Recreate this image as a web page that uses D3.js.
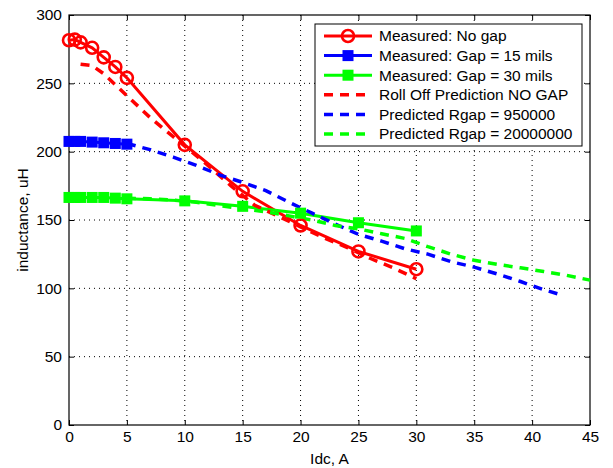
<!DOCTYPE html>
<html>
<head>
<meta charset="utf-8">
<script src="https://cdnjs.cloudflare.com/ajax/libs/d3/7.8.5/d3.min.js"></script>
<style>
	body { margin: 0; background: #fff; }
	text { font-family: "Liberation Sans", Arial, sans-serif; }
</style>
</head>
<body>
<script>
// measured points
const measX = [0, 0.5, 1, 2, 3, 4, 5, 10, 15, 20, 25, 30];
const noGap = [281.5, 282, 280, 276, 269, 262, 254, 205, 171, 146, 127, 114];
const gap15X = [0, 0.5, 1, 2, 3, 4, 5];
const gap15 = [207.5, 207.5, 207.5, 207, 206.5, 206, 205.5];
const gap30 = [166.5, 166.5, 166.5, 166.5, 166.5, 166, 165.5, 164, 160, 155, 148, 142];

// predictions
const rollX = [1, 2, 3, 4, 5, 6, 7, 8, 9, 10, 12, 14, 16, 18, 20, 22, 24, 26, 28, 30];
const rollOff = [264, 263, 257, 249, 241, 233, 225, 218, 211, 204, 190, 175, 161, 153, 145, 137, 130, 122, 115, 107];
const rg950X = [5, 7, 9, 11, 13, 15, 17, 19, 21, 23, 25, 27, 29, 31, 33, 35, 37, 39, 41, 42.6];
const rg950 = [206, 201.5, 196, 190, 183, 177.5, 171.5, 163, 155, 147, 139.5, 134.5, 129, 125, 119.5, 115.5, 110.5, 105, 99, 95];
const rg20mX = [5, 7, 9, 11, 13, 15, 17, 19, 21, 23, 25, 27, 29, 31, 33, 35, 37, 39, 41, 43, 45];
const rg20m = [166, 165.5, 164.5, 163, 160.5, 158.3, 156, 153, 150, 146, 143.5, 140, 136.5, 130.5, 125, 120.5, 117.5, 115, 112.3, 109.5, 106];

const xTicks = [0, 5, 10, 15, 20, 25, 30, 35, 40, 45];
const yTicks = [0, 50, 100, 150, 200, 250, 300];

const legendLabels = ["Measured: No gap", "Measured: Gap = 15 mils", "Measured: Gap = 30 mils",
	"Roll Off Prediction NO GAP", "Predicted Rgap = 950000", "Predicted Rgap = 20000000"];

const width = 613;
const height = 468;
const margin = {left: 69, right: 23, top: 15, bottom: 43};
const plotW = width - margin.left - margin.right;
const plotH = height - margin.top - margin.bottom;

let zip = (xs, ys) => xs.map((x, i) => [x, ys[i]]);

let series = [
	{name: legendLabels[0], data: zip(measX, noGap), color: "#ff0000", dash: null, marker: "circle"},
	{name: legendLabels[1], data: zip(gap15X, gap15), color: "#0000ff", dash: null, marker: "square"},
	{name: legendLabels[2], data: zip(measX, gap30), color: "#00ff00", dash: null, marker: "square"},
	{name: legendLabels[3], data: zip(rollX, rollOff), color: "#ff0000", dash: "9,7", marker: null},
	{name: legendLabels[4], data: zip(rg950X, rg950), color: "#0000ff", dash: "9,7", marker: null},
	{name: legendLabels[5], data: zip(rg20mX, rg20m), color: "#00ff00", dash: "9,7", marker: null}
];

let svg = d3.select("body")
	.append("svg")
		.attr("width", width)
		.attr("height", height)

let x = d3.scaleLinear().domain([0, 45]).range([0, plotW]);
let y = d3.scaleLinear().domain([0, 300]).range([plotH, 0]);

let g = svg.append("g")
	.attr("transform", `translate(${margin.left},${margin.top})`)

//GRID
g.append("g")
	.selectAll("line")
	.data(xTicks.slice(1, -1))
	.enter()
	.append("line")
		.attr("x1", d => x(d)).attr("x2", d => x(d))
		.attr("y1", 0).attr("y2", plotH)
		.attr("stroke", "#000")
		.attr("stroke-width", 1)
		.attr("stroke-dasharray", "1,4")

g.append("g")
	.selectAll("line")
	.data(yTicks.slice(1, -1))
	.enter()
	.append("line")
		.attr("y1", d => y(d)).attr("y2", d => y(d))
		.attr("x1", 0).attr("x2", plotW)
		.attr("stroke", "#000")
		.attr("stroke-width", 1)
		.attr("stroke-dasharray", "1,4")

//AXES (ticks inside, box on)
function styleAxis(sel) {
	sel.select(".domain").remove()
	sel.selectAll("text")
		.style("font-size", "15.5px")
		.attr("fill", "#000")
	sel.selectAll("line").attr("stroke", "#000")
}

g.append("g")
	.attr("transform", `translate(0,${plotH})`)
	.call(d3.axisBottom(x).tickValues(xTicks).tickSizeInner(-5).tickSizeOuter(0).tickPadding(6))
	.call(styleAxis)

g.append("g")
	.call(d3.axisLeft(y).tickValues(yTicks).tickSizeInner(-5).tickSizeOuter(0).tickPadding(7))
	.call(styleAxis)

g.append("g")
	.call(d3.axisTop(x).tickValues(xTicks).tickSizeInner(-5).tickSizeOuter(0).tickFormat(""))
	.call(styleAxis)

g.append("g")
	.attr("transform", `translate(${plotW},0)`)
	.call(d3.axisRight(y).tickValues(yTicks).tickSizeInner(-5).tickSizeOuter(0).tickFormat(""))
	.call(styleAxis)

g.append("rect")
	.attr("width", plotW)
	.attr("height", plotH)
	.attr("fill", "none")
	.attr("stroke", "#000")
	.attr("stroke-width", 1.2)

//LINES
let line = d3.line()
	.x(d => x(d[0]))
	.y(d => y(d[1]))

series.forEach(s => {
	g.append("path")
		.datum(s.data)
		.attr("d", line)
		.attr("fill", "none")
		.attr("stroke", s.color)
		.attr("stroke-width", s.dash ? 3.5 : 3)
		.attr("stroke-dasharray", s.dash)
})

//MARKERS
function drawMarker(sel, s, cx, cy) {
	if (s.marker === "circle") {
		sel.append("circle")
			.attr("cx", cx).attr("cy", cy).attr("r", 6)
			.attr("fill", "none")
			.attr("stroke", s.color)
			.attr("stroke-width", 2.6)
	} else if (s.marker === "square") {
		sel.append("rect")
			.attr("x", cx - 5.5).attr("y", cy - 5.5)
			.attr("width", 11).attr("height", 11)
			.attr("fill", s.color)
	}
}

series.filter(s => s.marker).forEach(s => {
	let mg = g.append("g")
	s.data.forEach(d => drawMarker(mg, s, x(d[0]), y(d[1])))
})

//LABELS
svg.append("text")
	.attr("x", margin.left + plotW / 2)
	.attr("y", 464)
	.attr("text-anchor", "middle")
	.style("font-size", "15.5px")
	.text("Idc, A")

svg.append("text")
	.attr("transform", `translate(28,${margin.top + plotH / 2}) rotate(-90)`)
	.attr("text-anchor", "middle")
	.style("font-size", "15.5px")
	.text("inductance, uH")

// LEGEND
const legX = 315, legY = 24, legW = 267, legH = 122, rowH = 19.6;

let legend = svg.append("g")

legend.append("rect")
	.attr("x", legX).attr("y", legY)
	.attr("width", legW).attr("height", legH)
	.attr("fill", "#fff")
	.attr("stroke", "#000")
	.attr("stroke-width", 1)

series.forEach((s, i) => {
	let ry = legY + 12 + i * rowH
	legend.append("line")
		.attr("x1", legX + 9).attr("x2", legX + 57)
		.attr("y1", ry).attr("y2", ry)
		.attr("stroke", s.color)
		.attr("stroke-width", s.dash ? 3.5 : 3)
		.attr("stroke-dasharray", s.dash)
	drawMarker(legend, s, legX + 33, ry)
	legend.append("text")
		.attr("x", legX + 64)
		.attr("y", ry)
		.attr("dy", "0.35em")
		.style("font-size", "15.5px")
		.text(s.name)
})
</script>
</body>
</html>
